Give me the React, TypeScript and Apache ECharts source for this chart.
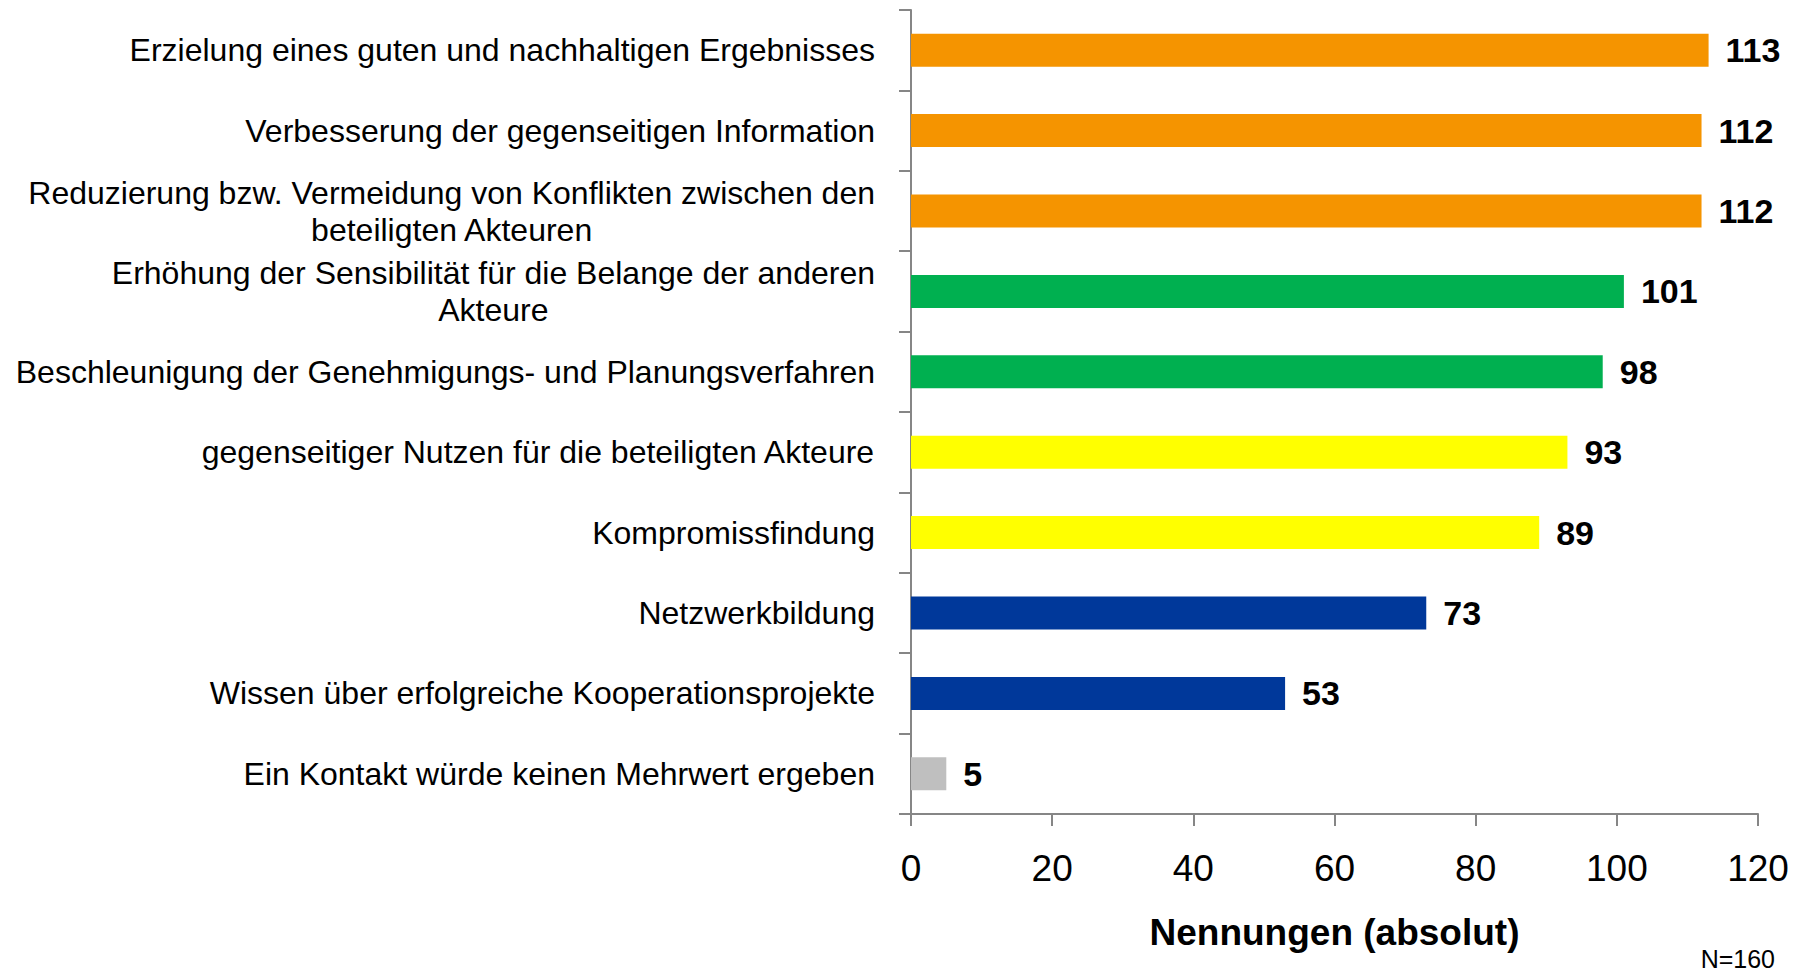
import React, { useEffect, useRef } from "react";
import * as echarts from "echarts";

const categories: string[] = [
  "Erzielung eines guten und nachhaltigen Ergebnisses",
  "Verbesserung der gegenseitigen Information",
  "Reduzierung bzw. Vermeidung von Konflikten zwischen den\nbeteiligten Akteuren",
  "Erhöhung der Sensibilität für die Belange der anderen\nAkteure",
  "Beschleunigung der Genehmigungs- und Planungsverfahren",
  "gegenseitiger Nutzen für die beteiligten Akteure",
  "Kompromissfindung",
  "Netzwerkbildung",
  "Wissen über erfolgreiche Kooperationsprojekte",
  "Ein Kontakt würde keinen Mehrwert ergeben",
];

const values: number[] = [113, 112, 112, 101, 98, 93, 89, 73, 53, 5];

const barColors: string[] = [
  "#F59400",
  "#F59400",
  "#F59400",
  "#00B050",
  "#00B050",
  "#FFFF00",
  "#FFFF00",
  "#00389A",
  "#00389A",
  "#BFBFBF",
];

const xTicks = { min: 0, max: 120, interval: 20 };
const axisTitle = "Nennungen (absolut)";
const sampleNote = "N=160";

const FONT = "'Liberation Sans', Arial, sans-serif";
const AXIS_GRAY = "#868686";

export default function App() {
  const ref = useRef<HTMLDivElement>(null);

  useEffect(() => {
    if (!ref.current) return;
    const chart = echarts.init(ref.current, undefined, { renderer: "svg" });
    chart.setOption({
      animation: false,
      backgroundColor: "#ffffff",
      textStyle: { fontFamily: FONT },
      grid: { left: 911, right: 47, top: 10, bottom: 159, containLabel: false },
      xAxis: {
        type: "value",
        min: xTicks.min,
        max: xTicks.max,
        interval: xTicks.interval,
        name: axisTitle,
        nameLocation: "middle",
        nameGap: 100,
        nameTextStyle: { fontFamily: FONT, fontSize: 37, fontWeight: "bold", color: "#000" },
        axisLine: { show: true, lineStyle: { color: AXIS_GRAY, width: 2 } },
        axisTick: { show: true, length: 12, lineStyle: { color: AXIS_GRAY, width: 2 } },
        splitLine: { show: false },
        axisLabel: { fontFamily: FONT, fontSize: 37, color: "#000", margin: 36 },
      },
      yAxis: {
        type: "category",
        inverse: true,
        data: categories,
        axisLine: { show: true, lineStyle: { color: AXIS_GRAY, width: 2 } },
        axisTick: { show: true, length: 12, lineStyle: { color: AXIS_GRAY, width: 2 } },
        axisLabel: {
          fontFamily: FONT,
          fontSize: 32,
          lineHeight: 37,
          color: "#000",
          margin: 36,
          align: "right",
          formatter: (v: string) =>
            v
              .split("\n")
              .map((line) => `{c|${line}}`)
              .join("\n"),
          rich: {
            c: {
              fontFamily: FONT,
              fontSize: 32,
              lineHeight: 37,
              color: "#000",
              align: "center",
            },
          },
        },
      },
      series: [
        {
          type: "bar",
          barWidth: 33,
          data: values.map((v, i) => ({ value: v, itemStyle: { color: barColors[i] } })),
          label: {
            show: true,
            position: "right",
            distance: 17,
            fontFamily: FONT,
            fontSize: 34,
            fontWeight: "bold",
            color: "#000",
          },
        },
      ],
      graphic: [
        {
          type: "text",
          right: 30,
          top: 946,
          style: { text: sampleNote, font: `25px ${FONT}`, fill: "#000" },
        },
      ],
    });
    return () => chart.dispose();
  }, []);

  return (
    <div
      ref={ref}
      style={{ position: "fixed", left: 0, top: 0, width: "1805px", height: "973px" }}
    />
  );
}
